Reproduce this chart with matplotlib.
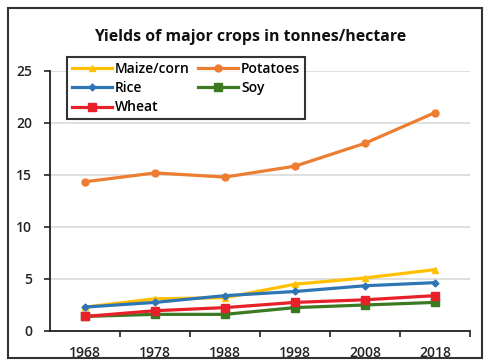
import matplotlib
matplotlib.use("Agg")
import matplotlib.pyplot as plt
from matplotlib.patches import Rectangle
from matplotlib.ticker import FixedLocator

years = ["1968", "1978", "1988", "1998", "2008", "2018"]
maize = [2.3, 3.1, 3.2, 4.5, 5.1, 5.9]
potatoes = [14.35, 15.2, 14.8, 15.85, 18.05, 21.0]
rice = [2.3, 2.75, 3.4, 3.8, 4.35, 4.65]
soy = [1.4, 1.6, 1.6, 2.25, 2.5, 2.75]
wheat = [1.4, 1.95, 2.25, 2.75, 3.0, 3.4]
yticks = [0, 5, 10, 15, 20, 25]

W, H = 489, 360
fig = plt.figure(figsize=(W / 100, H / 100), dpi=100)
plt.rcParams['font.family'] = ['Open Sans', 'DejaVu Sans']

AX_L, AX_B, AX_W, AX_H = 50, 331, 420, 260
ax = fig.add_axes([AX_L / W, 1 - AX_B / H, AX_W / W, AX_H / H])
x = list(range(len(years)))

series = [
    ("Maize/corn", maize, "#FFC000", "^", 5),
    ("Potatoes", potatoes, "#ED7D31", "o", 5),
    ("Rice", rice, "#2E75B6", "D", 3.5),
    ("Soy", soy, "#3B7A22", "s", 6),
    ("Wheat", wheat, "#E8202A", "s", 6),
]
handles = {}
for name, vals, col, mk, ms in series:
    h, = ax.plot(x, vals, color=col, lw=2.3, marker=mk, markersize=ms,
                 markerfacecolor=col, markeredgecolor=col, label=name, zorder=3)
    handles[name] = h

ax.set_xlim(-0.5, len(years) - 0.5)
ax.set_ylim(0, 25)
ax.set_yticks(yticks)
ax.set_xticks(x)
ax.set_xticklabels(years)
ax.xaxis.set_minor_locator(FixedLocator([i + 0.5 for i in range(len(years))]))
ax.tick_params(axis='x', which='major', length=0, pad=11, labelsize=10, colors='#222222')
ax.tick_params(axis='x', which='minor', length=4, width=1.2, color='#222222', direction='out')
ax.tick_params(axis='y', which='major', length=4, width=1.2, color='#222222', labelsize=10, pad=9, labelcolor='#222222')
for lbl in ax.get_xticklabels() + ax.get_yticklabels():
    lbl.set_fontweight('semibold')

ax.grid(axis='y', color='#D9D9D9', lw=1.2, zorder=0)
ax.set_axisbelow(True)
for s in ['top', 'right']:
    ax.spines[s].set_visible(False)
ax.spines['left'].set_color('#222222')
ax.spines['bottom'].set_color('#222222')
ax.spines['left'].set_linewidth(1.3)
ax.spines['bottom'].set_linewidth(1.3)

order = ["Maize/corn", "Rice", "Wheat", "Potatoes", "Soy"]
leg = ax.legend([handles[n] for n in order], order, ncol=2,
                loc='upper left',
                bbox_to_anchor=((67 - AX_L) / AX_W, (AX_B - 57) / AX_H),
                frameon=True, fancybox=False, edgecolor='black',
                prop={'size': 10, 'weight': 'semibold'},
                handlelength=2.9, handletextpad=0.2, columnspacing=0.6,
                labelspacing=0.38, borderpad=0.35, borderaxespad=0)
leg.get_frame().set_linewidth(1.5)

fig.text(250 / W, 1 - 37 / H, "Yields of major crops in tonnes/hectare",
         ha='center', va='center', fontsize=11.4, fontweight='bold', color='#111111')

fig.patches.append(Rectangle((8 / W, 1 - 358 / H), 474 / W, 350 / H,
                             transform=fig.transFigure, fill=False,
                             edgecolor='#333333', lw=1.5))

fig.savefig("out.png", dpi=100)
